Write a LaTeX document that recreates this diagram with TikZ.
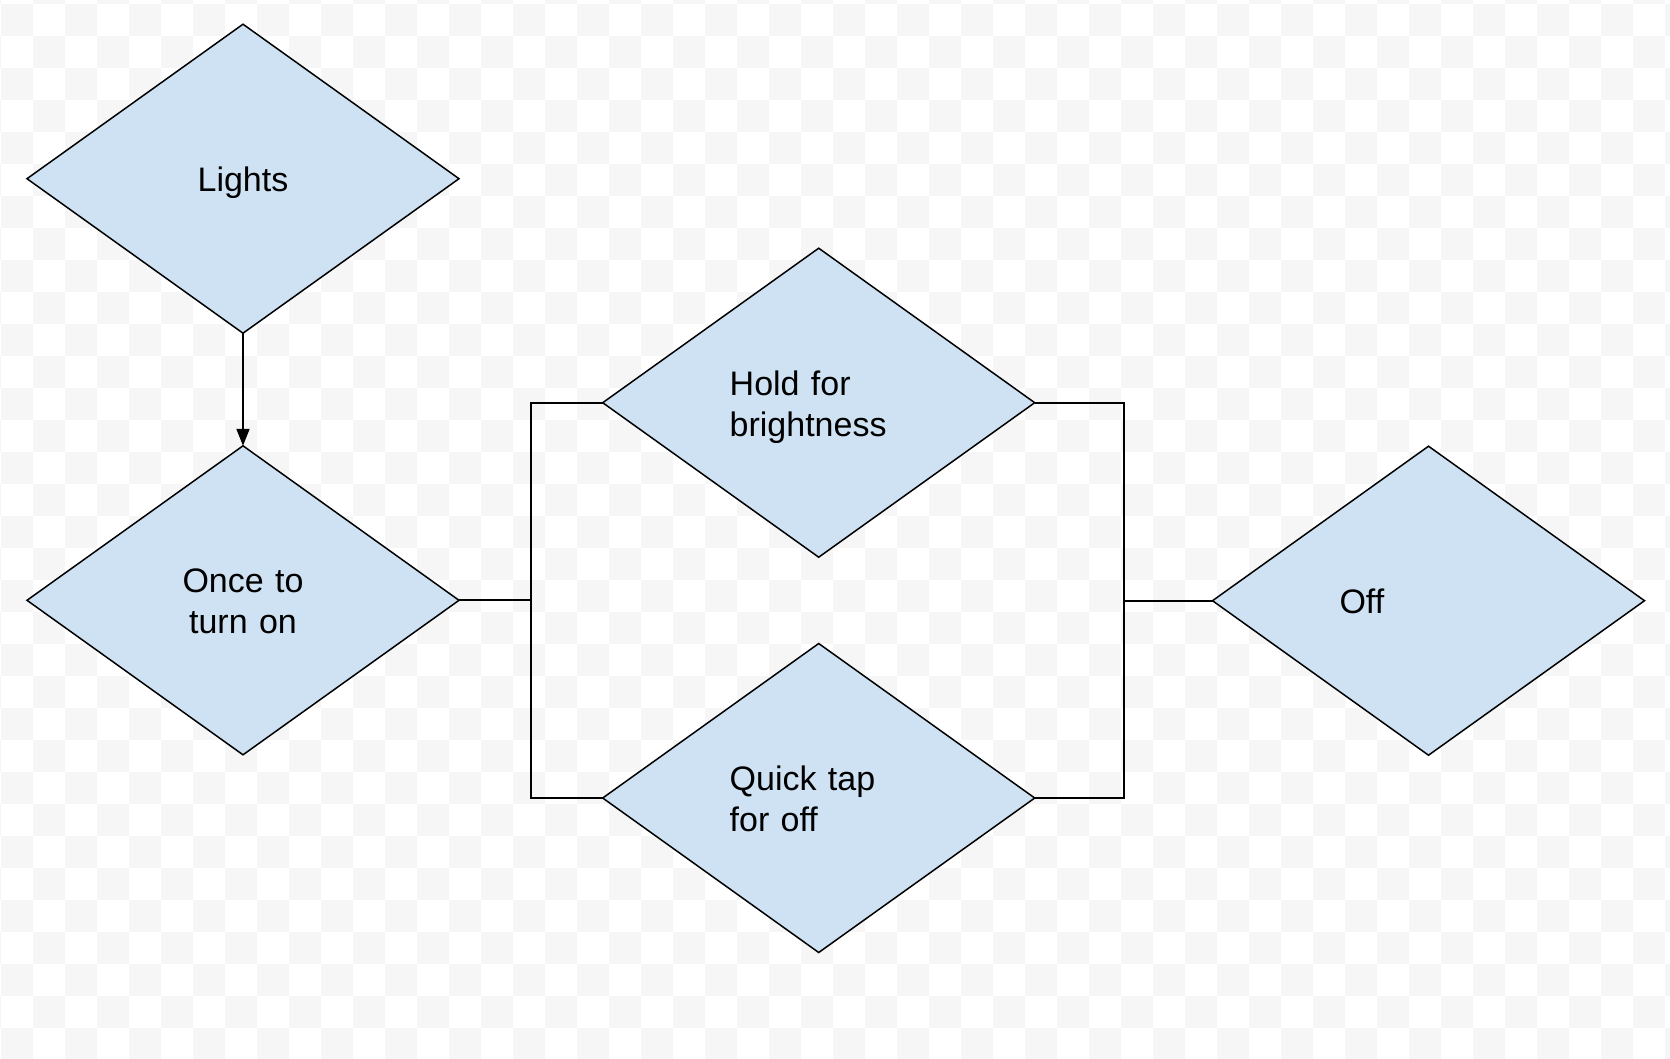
\documentclass[tikz,border=0pt]{standalone}
\usepackage{fontspec}
\setmainfont{Liberation Sans}
\usetikzlibrary{shapes.geometric,arrows.meta}
\definecolor{dfill}{HTML}{CFE2F3}
\definecolor{chk}{HTML}{F6F6F6}
\newcommand\lstrut{\leavevmode\vrule width0pt height32.8pt depth7.2pt\relax}
\begin{document}
\begin{tikzpicture}[x=1pt,y=-1pt,
  dia/.style={diamond, draw=black, line width=1.5pt, fill=dfill,
    minimum width=432pt, minimum height=309pt, inner sep=0pt, outer sep=0pt,
    text width=178pt, font=\fontsize{34}{41}\selectfont},
  lft/.style={align=left},
  ctr/.style={align=center},
  wire/.style={draw=black, line width=1.8pt, line join=miter}]
\useasboundingbox (0,0) rectangle (1670,1058);
\begin{scope}
\clip (0,0) rectangle (1670,1058);
\fill[white] (0,0) rectangle (1670,1058);
\foreach \i in {-1,...,52}{\foreach \j in {-1,...,33}{
  \pgfmathtruncatemacro\p{mod(\i+\j+2,2)}
  \ifnum\p=0 \fill[chk] (1.3+32*\i,3.5+32*\j) rectangle ++(32,32);\fi
}}
\end{scope}

\node[dia,ctr] (lights) at (243,178.7) {\lstrut Lights};
\node[dia,ctr] (once) at (243,600.3) {\lstrut Once to\\\lstrut turn on};
\node[dia,lft] (hold) at (818.7,402.7) {\lstrut Hold for\\\lstrut brightness};
\node[dia,lft] (quick) at (818.7,798) {\lstrut Quick tap\\\lstrut for off};
\node[dia,lft] (off) at (1428.5,600.7) {\lstrut Off};

\coordinate (lb) at (530.7,600.3);
\coordinate (rb) at (1124,600.7);

\draw[wire,-{Triangle[length=17pt,width=13pt]}] (lights.south) -- (once.north);
\draw[wire] (once.east) -- (lb);
\draw[wire] (hold.west) -| (lb) |- (quick.west);
\draw[wire] (hold.east) -| (rb) |- (quick.east);
\draw[wire] (rb) -- (off.west);
\end{tikzpicture}
\end{document}
